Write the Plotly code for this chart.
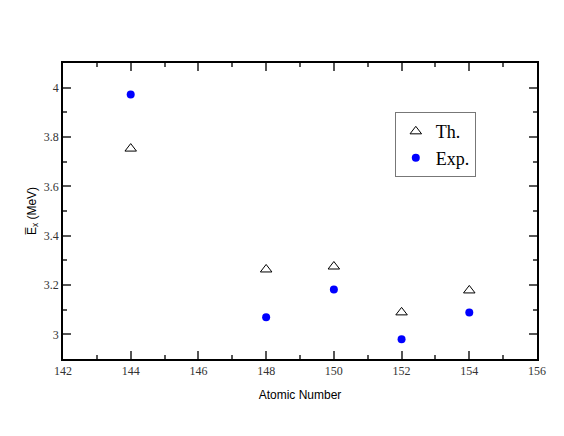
import plotly.graph_objects as go

# atomic number (mass number) of each nucleus
nuclei = [144, 148, 150, 152, 154]

# mean excitation energy, MeV
th_values = [3.753, 3.263, 3.275, 3.089, 3.178]
exp_values = [3.972, 3.069, 3.182, 2.980, 3.089]

fig = go.Figure()

fig.add_trace(go.Scatter(
    x=nuclei, y=th_values, mode='markers', name='Th.',
    marker=dict(symbol='triangle-up-open', size=10, color='black',
                line=dict(width=1, color='black'))
))

fig.add_trace(go.Scatter(
    x=nuclei, y=exp_values, mode='markers', name='Exp.',
    marker=dict(symbol='circle', size=8, color='#0000ff')
))

axis_common = dict(
    showline=True, linecolor='black', linewidth=1.5, mirror='ticks',
    ticks='inside', ticklen=8, tickwidth=1.5, tickcolor='#555',
    showgrid=False, zeroline=False,
    tickfont=dict(family='Liberation Serif', size=12, color='#333'),
)

fig.update_xaxes(
    range=[142, 156], dtick=2, tick0=142,
    minor=dict(ticks='inside', dtick=1, ticklen=4, tickcolor='#555'),
    title=dict(text='Atomic Number', font=dict(family='Liberation Sans', size=12, color='black'),
               standoff=13),
    **axis_common
)

fig.update_yaxes(
    range=[2.9, 4.1], dtick=0.2, tick0=3.0,
    minor=dict(ticks='inside', dtick=0.1, ticklen=4, tickcolor='#555'),
    title=dict(text='E\u0305<sub>x</sub> (MeV)', font=dict(family='Liberation Sans', size=12, color='black'),
               standoff=5),
    **axis_common
)

# page body adds an 8px offset, so the figure is a bit smaller than the window
fig.update_layout(
    width=556, height=428,
    margin=dict(l=55, r=27, t=55, b=77),
    plot_bgcolor='white', paper_bgcolor='white',
    legend=dict(
        x=0.70, y=0.834, xanchor='left', yanchor='top',
        bordercolor='#777', borderwidth=1, bgcolor='white',
        font=dict(family='Liberation Serif', size=18, color='black'),
        itemwidth=30, tracegroupgap=0,
    ),
)

fig.write_html("out.html")
